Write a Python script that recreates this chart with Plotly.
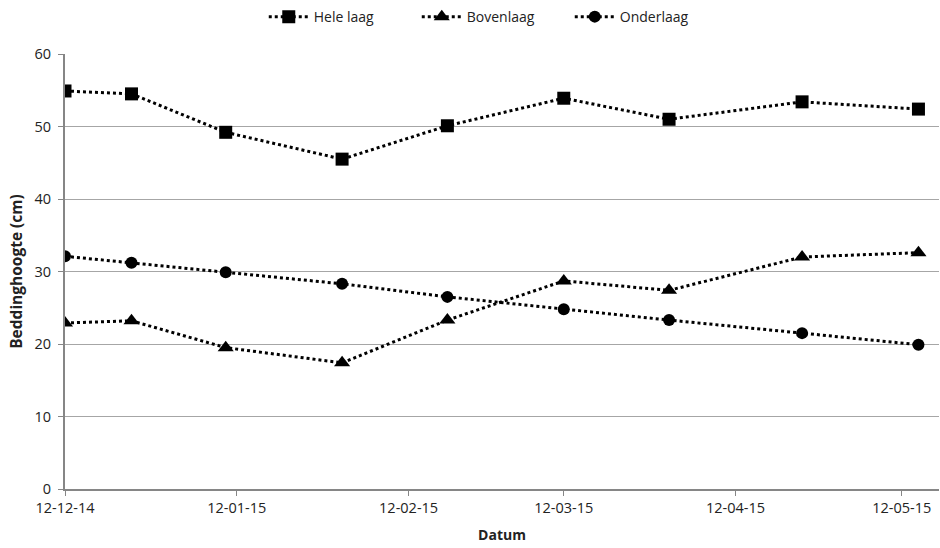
import plotly.graph_objects as go

dates = ["2014-12-12", "2014-12-24", "2015-01-10", "2015-01-31", "2015-02-19",
         "2015-03-12", "2015-03-31", "2015-04-24", "2015-05-15"]
hele_laag = [54.9, 54.5, 49.2, 45.5, 50.1, 53.9, 51.0, 53.4, 52.4]
bovenlaag = [22.9, 23.2, 19.5, 17.4, 23.3, 28.7, 27.4, 32.0, 32.6]
onderlaag = [32.1, 31.2, 29.9, 28.3, 26.5, 24.8, 23.3, 21.5, 19.9]

tick_vals = ["2014-12-12", "2015-01-12", "2015-02-12", "2015-03-12", "2015-04-12", "2015-05-12"]
tick_text = ["12-12-14", "12-01-15", "12-02-15", "12-03-15", "12-04-15", "12-05-15"]
y_ticks = [0, 10, 20, 30, 40, 50, 60]

FONT = "'Open Sans', sans-serif"

series = [
    ("Hele laag", hele_laag, "square", 13),
    ("Bovenlaag", bovenlaag, "triangle-up", 14),
    ("Onderlaag", onderlaag, "circle", 12),
]

fig = go.Figure()
for name, vals, sym, size in series:
    fig.add_trace(go.Scatter(
        x=dates, y=vals, name=name, mode="lines+markers",
        line=dict(color="black", width=3, dash="dot"),
        marker=dict(symbol=sym, size=size, color="black"),
    ))

fig.update_layout(
    width=940, height=548,
    margin=dict(l=65, r=1, t=54, b=59),
    paper_bgcolor="white", plot_bgcolor="white",
    font=dict(family=FONT, size=14, color="#222"),
    legend=dict(orientation="h", x=0.49, xanchor="center", y=1.085, yanchor="middle",
                font=dict(size=14), itemwidth=40, traceorder="normal",
                entrywidth=98, entrywidthmode="pixels"),
    showlegend=True,
)
fig.update_xaxes(
    type="date", range=["2014-12-12", "2015-05-18 17:00"],
    tickvals=tick_vals, ticktext=tick_text,
    showline=True, linecolor="#868686", linewidth=2,
    ticks="outside", ticklen=5, tickcolor="#868686",
    showgrid=False, zeroline=False,
    tickfont=dict(size=14.5),
    title=dict(text="<b>Datum</b>", font=dict(size=14), standoff=14),
)
fig.update_yaxes(
    range=[0, 60], tickvals=y_ticks,
    showline=True, linecolor="#868686", linewidth=2,
    ticks="outside", ticklen=5, tickcolor="#868686",
    showgrid=True, gridcolor="#a6a6a6", gridwidth=1,
    zeroline=False, tickfont=dict(size=14.5), ticklabelstandoff=4,
    title=dict(text="<b>Beddinghoogte (cm)</b>", font=dict(size=15.5), standoff=8),
)

fig.write_html("out.html")
